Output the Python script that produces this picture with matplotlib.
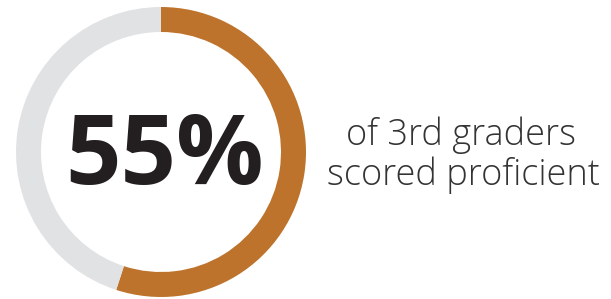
import matplotlib
matplotlib.use("Agg")
import matplotlib.pyplot as plt

# --- datos ---
proficient_pct = 55
slices = [proficient_pct, 100 - proficient_pct]
slice_colors = ['#bd732b', '#e1e2e4']
big_label = f"{proficient_pct}%"
caption_lines = ['of 3rd graders', 'scored proficient']

W, H, DPI = 611, 299, 100
fig = plt.figure(figsize=(W / DPI, H / DPI), dpi=DPI)
fig.patch.set_facecolor('white')

# donut (pixel box: centro 161,152 radio 145)
cx, cy, r = 161, 152, 145
ax_d = fig.add_axes([(cx - r) / W, (H - cy - r) / H, 2 * r / W, 2 * r / H])
ax_d.pie(slices, colors=slice_colors, startangle=90, counterclock=False,
         radius=1, wedgeprops=dict(width=25 / 145, linewidth=0))
ax_d.set_xlim(-1, 1)
ax_d.set_ylim(-1, 1)
ax_d.set_aspect('equal')
ax_d.axis('off')

# capa de texto en coordenadas de pixel
ax_t = fig.add_axes([0, 0, 1, 1])
ax_t.set_xlim(0, W)
ax_t.set_ylim(H, 0)
ax_t.axis('off')

ax_t.text(165, 184, big_label, ha='center', va='baseline', fontsize=70,
          fontfamily='Open Sans', fontweight='bold', color='#231f20')

ax_t.text(461, 145, caption_lines[0], ha='center', va='baseline', fontsize=26,
          fontfamily='Open Sans', fontweight='light', color='#333333')
ax_t.text(463, 185, caption_lines[1], ha='center', va='baseline', fontsize=26,
          fontfamily='Open Sans', fontweight='light', color='#333333')

fig.savefig('out.png', dpi=DPI, facecolor='white')
